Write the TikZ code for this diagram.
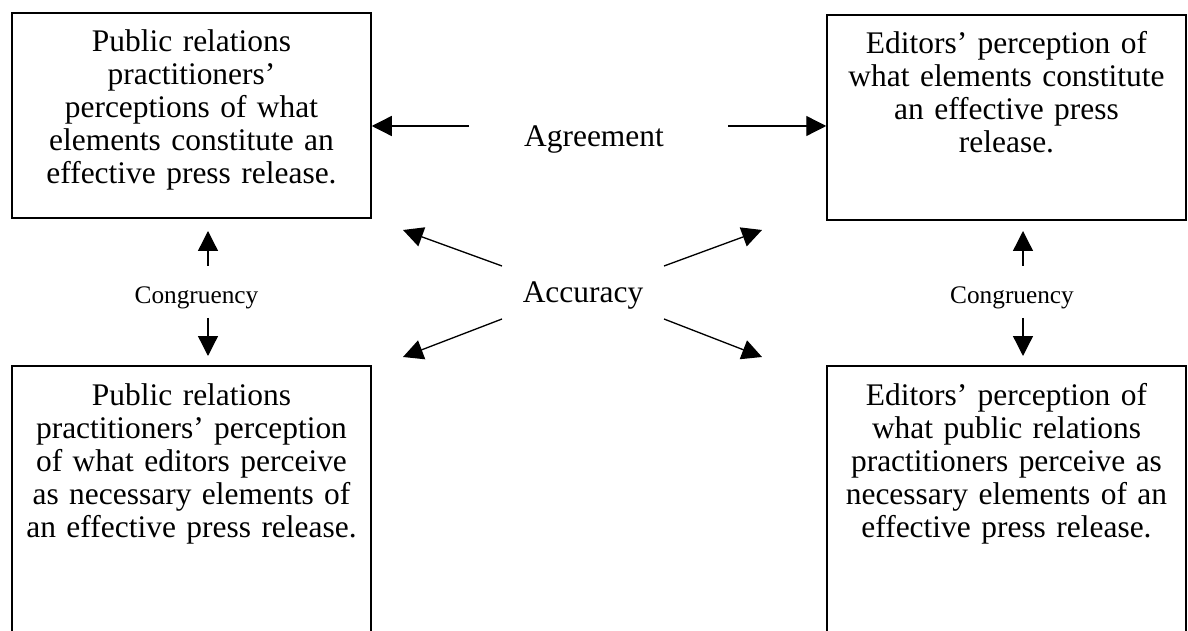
\documentclass[tikz,border=0pt]{standalone}
\usepackage{fontspec}
\setmainfont{Liberation Serif}
\usetikzlibrary{arrows.meta}

\begin{document}
\begin{tikzpicture}[
  x=0.02cm, y=-0.02cm,
  >={Triangle[length=0.4cm, width=0.4cm]},
  box/.style={draw, line width=0.9pt, inner sep=0pt, anchor=north,
    text width=7.18cm, align=center, text height=0.78cm,
    font=\fontsize{17.9}{18.8}\selectfont},
  topbox/.style={box, text depth=3.32cm},
  lowbox/.style={box, text height=0.8cm, text depth=6cm},
  word/.style={font=\fontsize{17.9}{18.8}\selectfont, anchor=base, inner sep=0pt},
  small/.style={font=\fontsize{14.4}{15}\selectfont, anchor=base, inner sep=0pt},
  arr/.style={->, line width=0.75pt},
]
\useasboundingbox (0,0) rectangle (1188,631);
\clip (0,0) rectangle (1188,631);

% --- the four perception boxes ---
\node[topbox] (prpercep) at (191.5,12)
  {Public relations\\practitioners'\\perceptions of what\\elements constitute an\\effective press release.};
\node[topbox] (edpercep) at (1006.5,14)
  {Editors' perception of\\what elements constitute\\an effective press\\release.};
\node[lowbox] (prmeta) at (191.5,365)
  {Public relations\\practitioners' perception\\of what editors perceive\\as necessary elements of\\an effective press release.};
\node[lowbox] (edmeta) at (1006.5,365)
  {Editors' perception of\\what public relations\\practitioners perceive as\\necessary elements of an\\effective press release.};

% --- Agreement ---
\node[word] (agree) at (594,147) {Agreement};
\coordinate (agl) at (469,126);
\coordinate (agr) at (728,126);
\draw[arr] (agl) -- (agl -| prpercep.east);
\draw[arr] (agr) -- (agr -| edpercep.west);

% --- Accuracy ---
\node[word] (accur) at (583,303) {Accuracy};
\coordinate (acnw) at (502,266);
\coordinate (acne) at (664,266);
\coordinate (acsw) at (502,319);
\coordinate (acse) at (664,319);
\coordinate (tipnw) at (403,230);
\coordinate (tipne) at (762,230);
\coordinate (tipsw) at (403,357);
\coordinate (tipse) at (762,357);
\draw[arr] (acnw) -- (tipnw);
\draw[arr] (acne) -- (tipne);
\draw[arr] (acsw) -- (tipsw);
\draw[arr] (acse) -- (tipse);

% --- Congruency (left and right) ---
\node[small] (congl) at (196.5,304) {Congruency};
\node[small] (congr) at (1012,304) {Congruency};
\coordinate (clup) at (208,266);
\coordinate (cldn) at (208,318);
\coordinate (crup) at (1023,266);
\coordinate (crdn) at (1023,318);
\draw[arr] (clup) -- ++(0,-35);
\draw[arr] (cldn) -- ++(0,38);
\draw[arr] (crup) -- ++(0,-35);
\draw[arr] (crdn) -- ++(0,38);

\end{tikzpicture}
\end{document}
